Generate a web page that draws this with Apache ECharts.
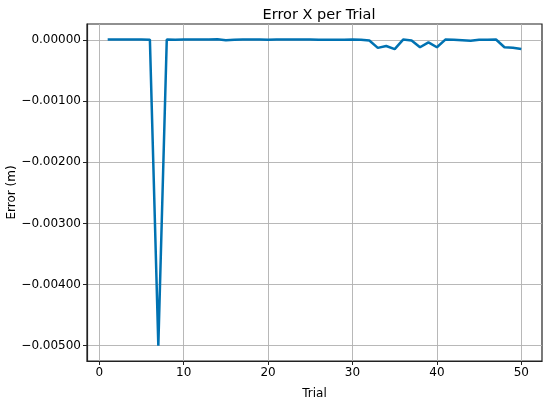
<!DOCTYPE html>
<html><head><meta charset="utf-8">
<script src="https://cdn.jsdelivr.net/npm/echarts@6/dist/echarts.min.js"></script>
<style>html,body{margin:0;padding:0;background:#fff}#c{width:550px;height:403px}</style>
</head><body><div id="c"></div>
<script>
const trials = Array.from({length: 50}, (_, i) => i + 1);
const errorX = [
  0.000005, 0.000008, 0.000008, 0.000007, 0.000007, 0.000004, -0.005, 0.000008, 0.000002, 0.000006,
  0.000007, 0.000006, 0.000008, 0.000010, -0.000005, 0.000002, 0.000006, 0.000006, 0.000006, 0.000004,
  0.000006, 0.000006, 0.000006, 0.000007, 0.000005, 0.000001, 0.000001, 0.000002, 0.000004, 0.000006,
  0.000004, -0.00001, -0.00013, -0.00010, -0.00015, 0.000005, -0.00001, -0.00012, -0.00004, -0.00012,
  0.000005, 0.000003, -0.000005, -0.000015, 0.000002, 0.000004, 0.000006, -0.00012, -0.00013, -0.00015
];
const xTicks = [0, 10, 20, 30, 40, 50];
const yTicks = [0, -0.001, -0.002, -0.003, -0.004, -0.005];

const font = 'DejaVu Sans';
const chart = echarts.init(document.getElementById('c'), null, {renderer: 'canvas'});
const fmtY = v => v.toFixed(5).replace('-', '\u2212');
const grid = {color: '#b0b0b0', width: 0.9, type: 'solid'};
chart.setOption({
  animation: false,
  backgroundColor: '#ffffff',
  title: {
    text: 'Error X per Trial', left: 314, top: 3, textAlign: 'center',
    textStyle: {fontFamily: font, fontSize: 14.5, fontWeight: 'normal', color: '#000'}
  },
  grid: {left: 87, right: 8, top: 24, bottom: 42, containLabel: false, outerBoundsMode: 'none',
    show: true, borderColor: '#222', borderWidth: 1.2, backgroundColor: 'transparent'},
  xAxis: {
    type: 'value', min: -1.45, max: 52.45,
    name: 'Trial', nameLocation: 'middle', nameGap: 27, nameMoveOverlap: false,
    nameTextStyle: {fontFamily: font, fontSize: 12, color: '#000'},
    axisLine: {onZero: false, lineStyle: {color: '#222', width: 1.2}},
    axisTick: {show: true, length: 4, inside: false, customValues: xTicks, lineStyle: {color: '#222'}},
    axisLabel: {customValues: xTicks, fontFamily: font, fontSize: 12, color: '#000', margin: 6,
      formatter: v => String(v)},
    splitLine: {show: true, lineStyle: grid}
  },
  yAxis: {
    type: 'value', min: -0.00525, max: 0.00026,
    name: 'Error (m)', nameLocation: 'middle', nameGap: 69, nameRotate: 90, nameMoveOverlap: false,
    nameTextStyle: {fontFamily: font, fontSize: 12, color: '#000'},
    axisLine: {show: true, onZero: false, lineStyle: {color: '#222', width: 1.2}},
    axisTick: {show: true, length: 4, inside: false, customValues: yTicks, lineStyle: {color: '#222'}},
    axisLabel: {customValues: yTicks, fontFamily: font, fontSize: 12, color: '#000', margin: 6,
      formatter: fmtY},
    splitLine: {show: true, lineStyle: grid}
  },
  series: [
    {
      type: 'line', data: trials.map((t, i) => [t, errorX[i]]),
      showSymbol: false, symbol: 'none',
      lineStyle: {color: '#0072B2', width: 2.5}, z: 5
    }
  ]
});
</script></body></html>
